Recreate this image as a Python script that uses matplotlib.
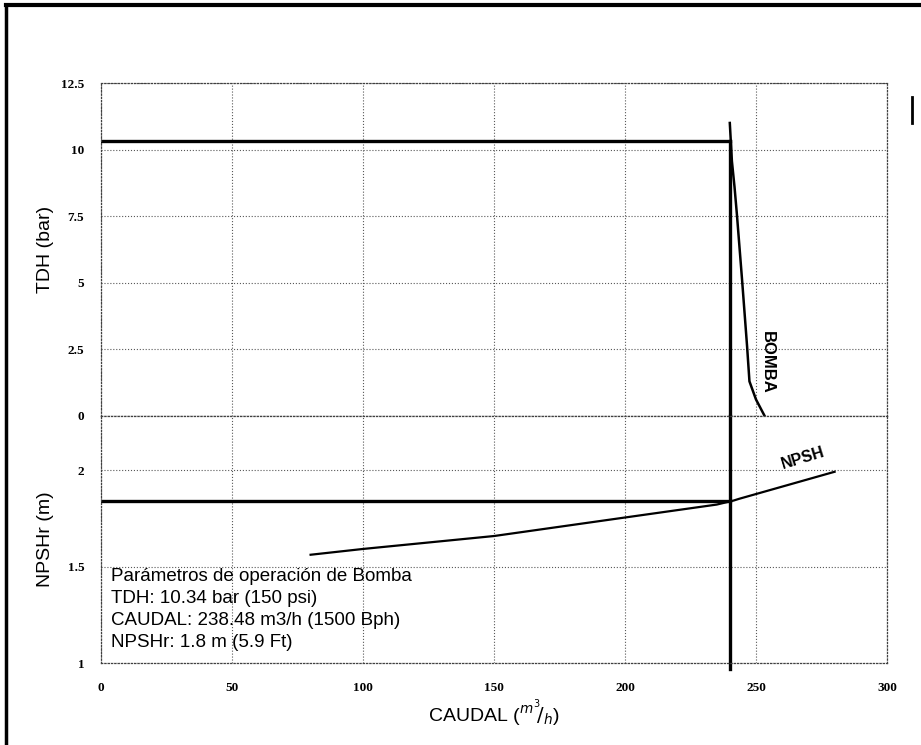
import numpy as np
import matplotlib
matplotlib.use('Agg')
import matplotlib.pyplot as plt
from matplotlib.lines import Line2D

plt.rcParams['font.family'] = ['Liberation Sans', 'DejaVu Sans']

# curva de la bomba (TDH vs caudal)
bomba_q = [240.0, 240.8, 241.8, 242.7, 244.7, 246.6, 247.5, 250.0, 253.3]
bomba_tdh = [11.0, 9.57, 8.6, 7.58, 5.09, 2.61, 1.30, 0.62, 0.0]

# curva NPSH requerido
npsh_q = [80, 100, 150, 200, 235, 241.5, 243.6, 280]
npsh_m = [1.561, 1.591, 1.658, 1.754, 1.821, 1.842, 1.851, 1.991]

# punto de operacion
q_op = 240.0
tdh_op = 10.34
npsh_op = 1.84

x_ticks = [0, 50, 100, 150, 200, 250, 300]
tdh_ticks = [0, 2.5, 5, 7.5, 10, 12.5]
tdh_labels = ['0', '2.5', '5', '7.5', '10', '12.5']
npsh_ticks = [1, 1.5, 2]
npsh_labels = ['1', '1.5', '2']

info = ['Parámetros de operación de Bomba',
        'TDH: 10.34 bar (150 psi)',
        'CAUDAL: 238.48 m3/h (1500 Bph)',
        'NPSHr: 1.8 m (5.9 Ft)']

W, H = 921, 745
fig = plt.figure(figsize=(W / 100, H / 100), dpi=100)
left, right = 101, 887
ax_top = fig.add_axes([left / W, 1 - 416 / H, (right - left) / W, (416 - 83) / H])
ax_bot = fig.add_axes([left / W, 1 - 663 / H, (right - left) / W, (663 - 416) / H])

tick_font = dict(family='Liberation Serif', weight='bold', size=9.5)

for ax in (ax_top, ax_bot):
    ax.set_xlim(0, 300)
    ax.set_xticks(x_ticks)
    ax.grid(True, linestyle=':', color='0.35', linewidth=0.8)
    for s in ax.spines.values():
        s.set_linestyle(':')
        s.set_color('0.25')
        s.set_linewidth(0.9)
    ax.tick_params(length=0, pad=12)
    ax.set_axisbelow(True)

ax_top.set_ylim(0, 12.5)
ax_top.set_yticks(tdh_ticks)
ax_top.set_yticklabels(tdh_labels, fontdict=tick_font)
ax_top.set_xticklabels([])
ax_top.plot([0, q_op], [tdh_op, tdh_op], color='black', lw=2.4)
ax_top.plot([q_op, q_op], [0, tdh_op], color='black', lw=2.4)
ax_top.plot(bomba_q, bomba_tdh, color='black', lw=1.8)
ax_top.text(254.5, 2.0, 'BOMBA', rotation=-90, ha='center', va='center',
            fontsize=12, fontweight='bold')
ax_top.set_ylabel('TDH (bar)', fontsize=14)
ax_top.yaxis.set_label_coords(-0.06, 0.5)

ax_bot.set_ylim(1, 2.28)
ax_bot.set_yticks(npsh_ticks)
ax_bot.set_yticklabels(npsh_labels, fontdict=tick_font)
ax_bot.set_xticklabels([str(v) for v in x_ticks], fontdict=tick_font)
ax_bot.tick_params(axis='x', pad=14)
ax_bot.plot([0, q_op], [npsh_op, npsh_op], color='black', lw=2.4)
ax_bot.plot([q_op, q_op], [0.97, 2.28], color='black', lw=2.4, clip_on=False)
ax_bot.plot(npsh_q, npsh_m, color='black', lw=1.6)
ax_bot.text(268, 2.06, 'NPSH', rotation=17, ha='center', va='center',
            fontsize=11.5, fontweight='bold')
ax_bot.set_ylabel('NPSHr (m)', fontsize=14)
ax_bot.yaxis.set_label_coords(-0.06, 0.5)
ax_bot.set_xlabel(r'CAUDAL ($^{m^3}\!/_{h}$)', fontsize=14, labelpad=3)

for i, line in enumerate(info):
    ax_bot.text(4, 1.45 - i * 0.114, line, fontsize=13.5, va='center', ha='left')

# marco del documento escaneado
fig.add_artist(Line2D([0.006, 1.0], [0.993, 0.993], color='black', lw=3))
fig.add_artist(Line2D([0.007, 0.007], [0.0, 0.993], color='black', lw=2.5))
fig.add_artist(Line2D([0.99, 0.99], [0.835, 0.87], color='black', lw=2))

fig.savefig('out.png', dpi=100)
